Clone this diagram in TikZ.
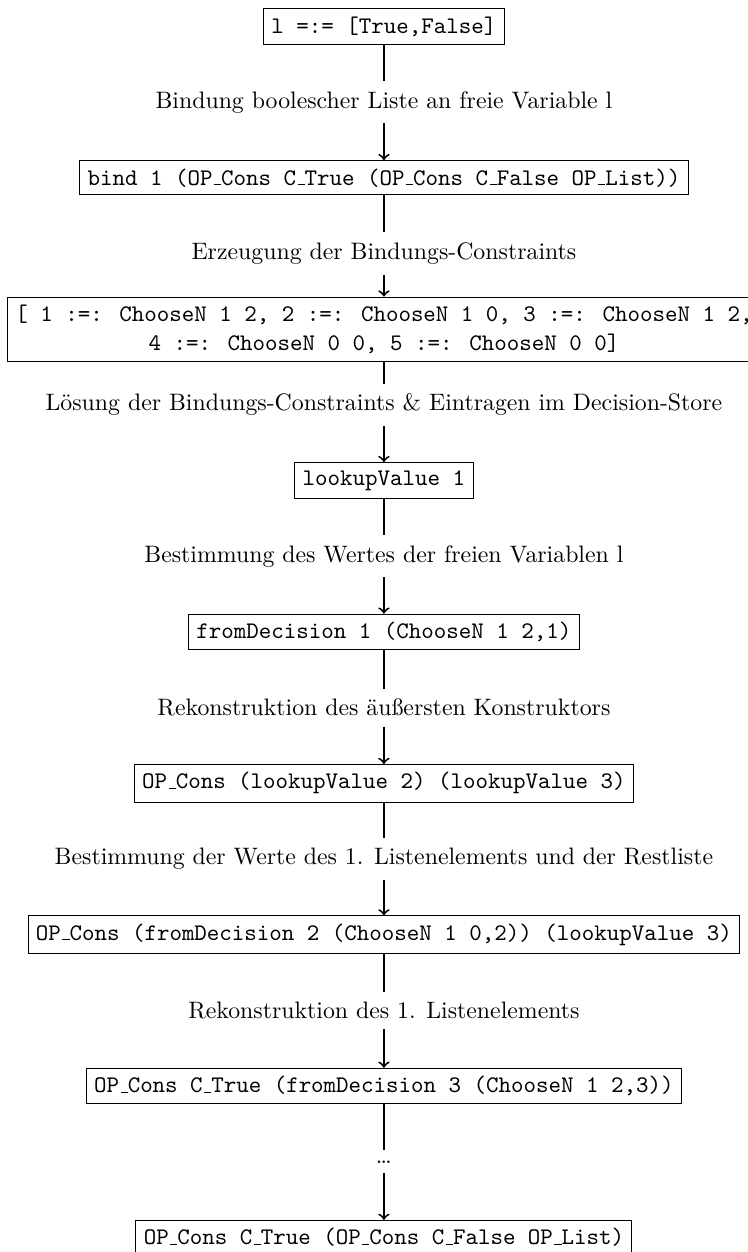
\documentclass[tikz,border=0pt]{standalone}
% underscore drawn as a short rule on the baseline
\newcommand\uscore{\leavevmode\kern.06em\vbox{\hrule width .3em}}
\begin{document}
\begin{tikzpicture}[
  stepbox/.style={draw, line width=0.4pt, font=\ttfamily, inner sep=3.33pt},
  steplabel/.style={inner sep=3.33pt, outer sep=1pt},
  flow/.style={thick},
  flowarrow/.style={thick, ->}
]
\useasboundingbox (-161.3pt,11.1pt) rectangle (152.9pt,-514.9pt);
\clip (-161.3pt,11.1pt) rectangle (152.9pt,-514.9pt);

% boxes of the evaluation steps
\node[stepbox] (b1) at (0,0) {l =:= [True,False]};
\node[stepbox] (b2) at (0,-63.6pt) {bind 1 (OP\uscore Cons C\uscore True (OP\uscore Cons C\uscore False OP\uscore List))};
\node[stepbox, align=center] (b3) at (0,-127.2pt) {[ 1 :=: ChooseN 1 2, 2 :=: ChooseN 1 0, 3 :=: ChooseN 1 2,\\4 :=: ChooseN 0 0, 5 :=: ChooseN 0 0]};
\node[stepbox] (b4) at (0,-190.8pt) {lookupValue 1};
\node[stepbox] (b5) at (0,-254.4pt) {fromDecision 1 (ChooseN 1 2,1)};
\node[stepbox] (b6) at (0,-318.0pt) {OP\uscore Cons (lookupValue 2) (lookupValue 3)};
\node[stepbox] (b7) at (0,-381.6pt) {OP\uscore Cons (fromDecision 2 (ChooseN 1 0,2)) (lookupValue 3)};
\node[stepbox] (b8) at (0,-445.2pt) {OP\uscore Cons C\uscore True (fromDecision 3 (ChooseN 1 2,3))};
\node[stepbox] (b9) at (0,-508.8pt) {OP\uscore Cons C\uscore True (OP\uscore Cons C\uscore False OP\uscore List)};

% descriptions between the steps
\node[steplabel] (l1) at (0,-31.8pt) {Bindung boolescher Liste an freie Variable l};
\node[steplabel] (l2) at (0,-95.4pt) {Erzeugung der Bindungs-Constraints};
\node[steplabel] (l3) at (0,-159.0pt) {Lösung der Bindungs-Constraints \& Eintragen im Decision-Store};
\node[steplabel] (l4) at (0,-222.6pt) {Bestimmung des Wertes der freien Variablen l};
\node[steplabel] (l5) at (0,-286.2pt) {Rekonstruktion des äußersten Konstruktors};
\node[steplabel] (l6) at (0,-349.8pt) {Bestimmung der Werte des 1. Listenelements und der Restliste};
\node[steplabel] (l7) at (0,-413.4pt) {Rekonstruktion des 1. Listenelements};
\node[steplabel] (l8) at (0,-477.0pt) {\ldots};

% connectors
\foreach \i/\j in {1/2,2/3,3/4,4/5,5/6,6/7,7/8,8/9} {
  \draw[flow] (b\i) -- (l\i);
  \draw[flowarrow] (l\i) -- (b\j);
}
\end{tikzpicture}
\end{document}
